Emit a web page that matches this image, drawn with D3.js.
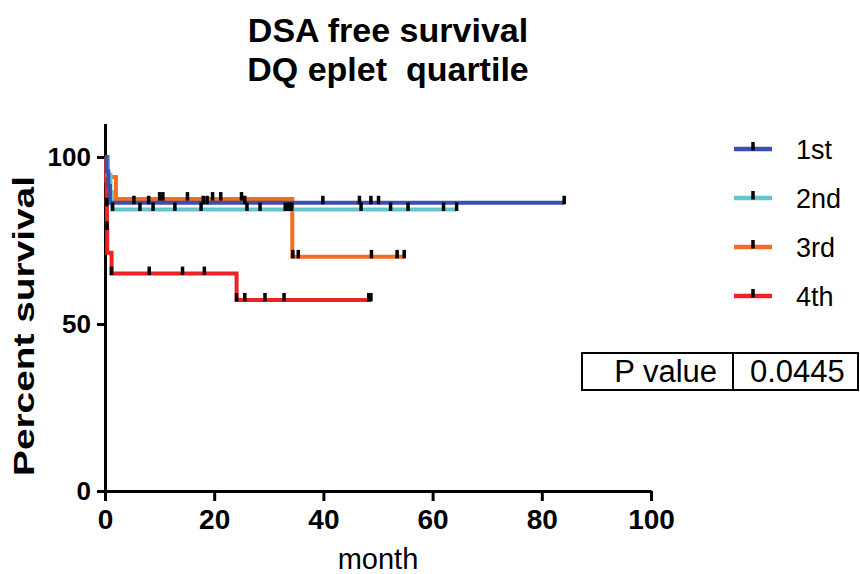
<!doctype html>
<html>
<head>
<meta charset="utf-8"/>
<style>
  html, body { margin: 0; padding: 0; background: #fff; }
  svg { display: block; font-family: "Liberation Sans", Arial, Helvetica, sans-serif; }
  .axis path, .axis line { stroke: #000; stroke-width: 3; fill: none; }
  .axis text { font-weight: bold; fill: #000; }
  .y-axis text { font-size: 26px; }
  .x-axis text { font-size: 28px; }
</style>
<script src="https://d3js.org/d3.v7.min.js"></script>
</head>
<body>
<svg width="860" height="574"></svg>
<script>
// Kaplan-Meier steps: [month, percent survival]
var groups = ["1st", "2nd", "3rd", "4th"];
var colours = ["#3c4fae", "#62c5cf", "#f26d21", "#ec2224"];

var steps1 = [[0, 100], [0.3, 95.7], [0.6, 91.3], [0.9, 86.3]];
var steps2 = [[0, 100], [0.5, 94.7], [1.0, 89.5], [1.3, 84.3]];
var steps3 = [[0, 100], [0.5, 94.0], [2.0, 87.4], [34.3, 70.1]];
var steps4 = [[0, 100], [0.2, 92.9], [0.3, 85.7], [0.35, 78.6], [0.4, 71.3], [1.2, 65.1], [24.1, 57.2]];

// last follow-up time of each group
var lastTime = [84.1, 64.4, 54.8, 48.7];

// censored observations (month)
var censor1 = [5.3, 8.0, 18.0, 18.7, 25.6, 39.9, 46.6, 48.7, 50.1, 84.1];
var censor2 = [1.4, 6.4, 8.8, 12.8, 17.6, 26.0, 28.4, 33.0, 33.6, 34.2, 46.9, 52.3, 55.5, 62.0, 64.4];
var censor3 = [10.0, 10.6, 15.1, 19.7, 21.2, 25.0, 34.4, 35.4, 48.8, 53.5, 54.8];
var censor4 = [0.32, 0.37, 1.2, 8.1, 14.2, 18.2, 24.1, 25.6, 29.3, 32.8, 48.3, 48.7];

var xTicks = [0, 20, 40, 60, 80, 100];
var yTicks = [0, 50, 100];
var pLabel = "P value", pValue = "0.0445";

var svg = d3.select("svg");
var x = d3.scaleLinear().domain([0, 100]).range([105, 651]);
var y = d3.scaleLinear().domain([0, 110]).range([491, 123.6]);

var allSteps = [steps1, steps2, steps3, steps4];
var allCensor = [censor1, censor2, censor3, censor4];

// survival value at time t for a step list
function survAt(steps, t) {
  var v = steps[0][1];
  steps.forEach(function(s) { if (s[0] <= t) v = s[1]; });
  return v;
}

// titles
svg.append("text").attr("x", 388).attr("y", 42).attr("text-anchor", "middle")
  .style("font-size", "34px").style("font-weight", "bold").text("DSA free survival");
svg.append("text").attr("x", 388).attr("y", 81).attr("text-anchor", "middle")
  .style("font-size", "34px").style("font-weight", "bold").style("white-space", "pre")
  .text("DQ eplet  quartile");

// axes
svg.append("g").attr("class", "axis y-axis")
  .attr("transform", "translate(105,0)")
  .call(d3.axisLeft(y).tickValues(yTicks).tickSize(8).tickSizeOuter(0).tickPadding(6));
svg.append("g").attr("class", "axis x-axis")
  .attr("transform", "translate(0,491)")
  .call(d3.axisBottom(x).tickValues(xTicks).tickSize(10).tickSizeOuter(0).tickPadding(8));

svg.append("text").attr("transform", "translate(34,326) rotate(-90)")
  .attr("text-anchor", "middle").style("font-size", "30px").style("font-weight", "bold")
  .attr("textLength", 300).attr("lengthAdjust", "spacingAndGlyphs")
  .text("Percent survival");
svg.append("text").attr("x", 378).attr("y", 569).attr("text-anchor", "middle")
  .style("font-size", "29px").text("month");

// curves, 4th first so 1st ends on top
var line = d3.line().curve(d3.curveStepAfter)
  .x(function(d) { return x(d[0]); }).y(function(d) { return y(d[1]); });

for (var i = 3; i >= 0; i--) {
  var st = allSteps[i];
  var pts = st.concat([[lastTime[i], st[st.length - 1][1]]]);
  svg.append("path").attr("d", line(pts))
    .attr("fill", "none").attr("stroke", colours[i]).attr("stroke-width", 4);
}
for (var j = 3; j >= 0; j--) {
  var s = allSteps[j];
  svg.append("g").selectAll("line").data(allCensor[j]).enter().append("line")
    .attr("x1", function(t) { return x(t); }).attr("x2", function(t) { return x(t); })
    .attr("y1", function(t) { return y(survAt(s, t)) - 7; })
    .attr("y2", function(t) { return y(survAt(s, t)) + 1.5; })
    .attr("stroke", "#000").attr("stroke-width", 3.5);
}

// legend
var legY = [149, 198, 247, 296];
groups.forEach(function(g, k) {
  var lg = svg.append("g").attr("transform", "translate(0," + legY[k] + ")");
  lg.append("line").attr("x1", 734).attr("x2", 772).attr("y1", 0).attr("y2", 0)
    .attr("stroke", colours[k]).attr("stroke-width", 4.5);
  lg.append("line").attr("x1", 753).attr("x2", 753).attr("y1", -7).attr("y2", 1.5)
    .attr("stroke", "#000").attr("stroke-width", 3.5);
  lg.append("text").attr("x", 796).attr("y", 10).style("font-size", "27px").text(g);
});

// P value table
var box = svg.append("g");
box.append("rect").attr("x", 582).attr("y", 353).attr("width", 276).attr("height", 37)
  .attr("fill", "none").attr("stroke", "#000").attr("stroke-width", 2);
box.append("line").attr("x1", 733).attr("x2", 733).attr("y1", 353).attr("y2", 390)
  .attr("stroke", "#000").attr("stroke-width", 2);
box.append("text").attr("x", 717).attr("y", 382).attr("text-anchor", "end")
  .style("font-size", "31px").text(pLabel);
box.append("text").attr("x", 750).attr("y", 382)
  .style("font-size", "31px").text(pValue);
</script>
</body>
</html>
